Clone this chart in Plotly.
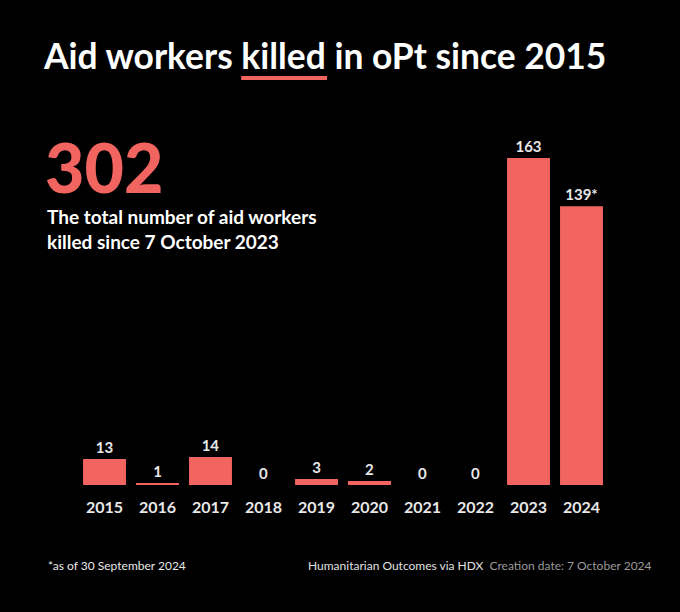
import plotly.graph_objects as go

years = ['2015', '2016', '2017', '2018', '2019', '2020', '2021', '2022', '2023', '2024']
killed = [13, 1, 14, 0, 3, 2, 0, 0, 163, 139]
bar_labels = ['13', '1', '14', '0', '3', '2', '0', '0', '163', '139*']

W, H = 680, 612
ML, MR, MT, MB = 77.5, 71.5, 130, 127
PW, PH = W - ML - MR, H - MT - MB

RED = '#F2645F'
FONT = 'Lato'


def px(x):
    return (x - ML) / PW


def py_(y):
    return (H - MB - y) / PH


fig = go.Figure()
fig.add_trace(go.Bar(
    x=years, y=killed, text=['<b>%s</b>' % t for t in bar_labels], textposition='outside',
    marker=dict(color=RED, line=dict(width=0)),
    textfont=dict(family=FONT, size=15, color='#e8e8e8'),
    cliponaxis=False, hoverinfo='skip'))

ann = [
    dict(text='<b>Aid workers killed in oPt since 2015</b>', x=px(40), y=py_(55),
         font=dict(size=35.4, color='white')),
    dict(text='302', x=px(42), y=py_(166), font=dict(size=68, color=RED, weight=900)),
    dict(text='<b>The total number of aid workers<br>killed since 7 October 2023</b>',
         x=px(44), y=py_(229), font=dict(size=19, color='white')),
    dict(text='*as of 30 September 2024', x=px(45), y=py_(565),
         font=dict(size=12, color='#e8e8e8')),
    dict(text='Humanitarian Outcomes via HDX  <span style="color:#9a9a9a">Creation date: 7 October 2024</span>',
         x=px(655), y=py_(565), xanchor='right', font=dict(size=12, color='#e0e0e0')),
]
for a in ann:
    a.setdefault('xanchor', 'left')
    a.update(xref='paper', yref='paper', yanchor='middle', showarrow=False, align='left')
    a['font']['family'] = FONT

fig.update_layout(
    width=W, height=H,
    margin=dict(l=ML, r=MR, t=MT, b=MB, pad=0),
    paper_bgcolor='black', plot_bgcolor='black',
    bargap=0.19, showlegend=False,
    annotations=ann,
    shapes=[dict(type='rect', xref='paper', yref='paper',
                 x0=px(241), x1=px(327), y0=py_(80), y1=py_(76),
                 fillcolor=RED, line=dict(width=0))],
    xaxis=dict(showgrid=False, zeroline=False, showline=False, ticks='',
               tickfont=dict(family=FONT, size=16, color='#e8e8e8'),
               ticklabelstandoff=11),
    yaxis=dict(range=[0, (H - MB - MT) / 2.006], visible=False),
    font=dict(family=FONT),
)
fig.update_xaxes(tickprefix='<b>', ticksuffix='</b>')

fig.write_html('out.html', config={'displayModeBar': False},
               post_script="document.body.style.margin='0';document.body.style.background='black';")
